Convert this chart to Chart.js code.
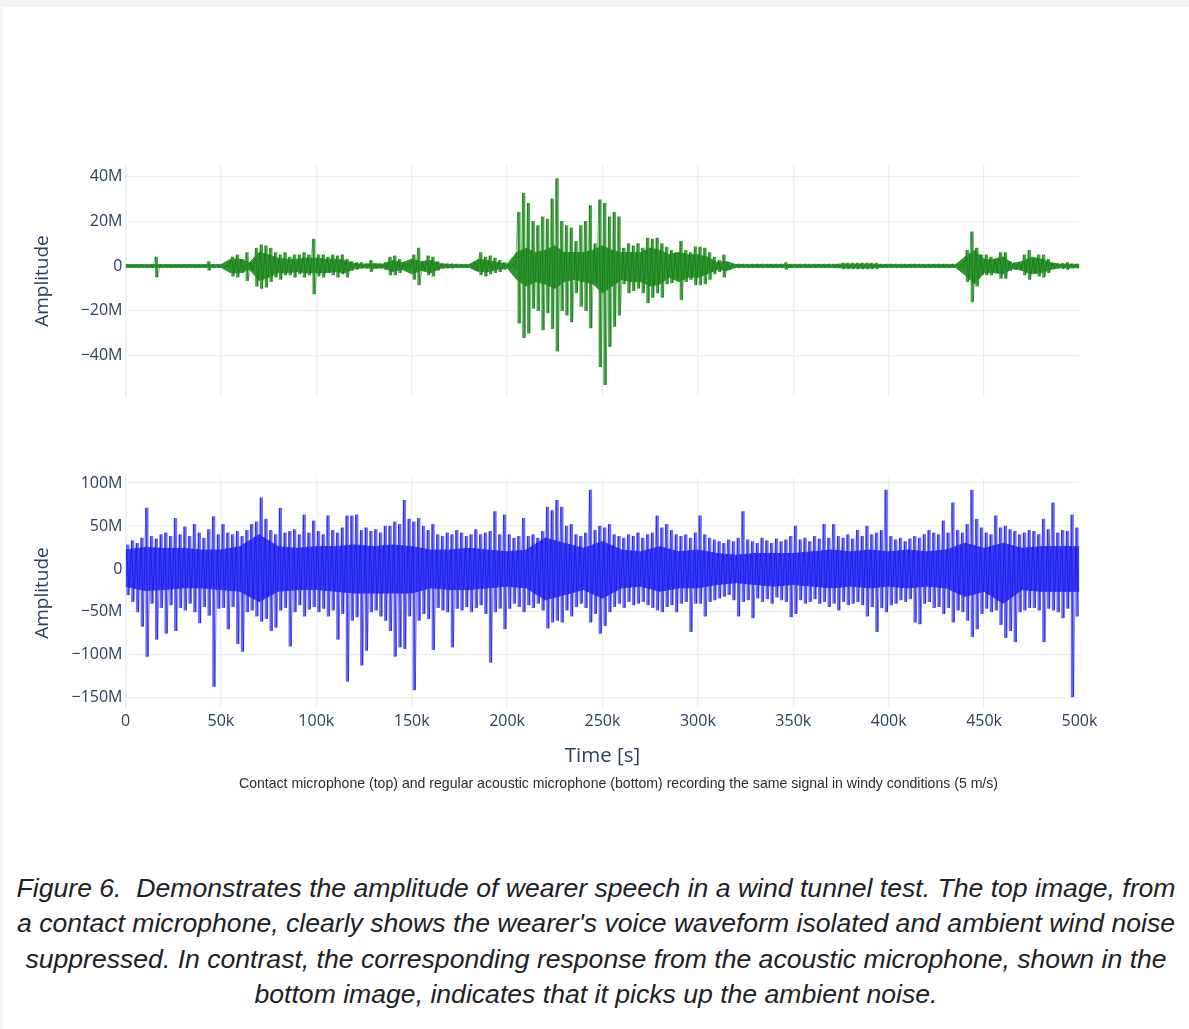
<!DOCTYPE html>
<html>
<head>
<meta charset="utf-8">
<script src="https://cdn.jsdelivr.net/npm/chart.js@4"></script>
<style>
  body { margin: 0; width: 1189px; height: 1029px; overflow: hidden; position: relative; background: #f5f4f0; font-family: "Open Sans", sans-serif; }
  #card { position: absolute; left: 3px; top: 7px; right: 0; bottom: 0; background: #fff; }
  canvas { position: absolute; left: 0; }
  #top { top: 150px; }
  #bottom { top: 465px; }
  #xtitle { position: absolute; left: 0; width: 1205px; top: 741px; line-height: 26px; text-align: center; font-size: 20.5px; color: #2a3f5f; }
  #note { position: absolute; left: 0; width: 1237px; top: 775px; line-height: 16px; text-align: center; font: 14.1px "Liberation Sans", Arial, sans-serif; color: #2b2b2b; white-space: nowrap; }
  #caption { position: absolute; left: 3px; right: 0; top: 871px; text-align: center; font: italic 26.6px/35.3px "Liberation Sans", Arial, sans-serif; color: #1d2125; white-space: nowrap; }
</style>
</head>
<body>
<div id="card"></div>
<canvas id="top" width="1100" height="260"></canvas>
<canvas id="bottom" width="1100" height="300"></canvas>
<div id="xtitle">Time [s]</div>
<div id="note">Contact microphone (top) and regular acoustic microphone (bottom) recording the same signal in windy conditions (5 m/s)</div>
<div id="caption">Figure 6.&nbsp; Demonstrates the amplitude of wearer speech in a wind tunnel test. The top image, from<br>a contact microphone, clearly shows the wearer's voice waveform isolated and ambient wind noise<br>suppressed. In contrast, the corresponding response from the acoustic microphone, shown in the<br>bottom image, indicates that it picks up the ambient noise.</div>
<script>
// peaks: high and low per 2.5k-sample bin, amplitude in millions
const binSize = 2500;

const topHi = [
  0.6, 0.6, 0.6, 0.6, 0.6, 0.6, 4, 0.6, 0.6, 0.6,
  0.6, 0.6, 0.6, 0.6, 0.6, 0.6, 0.6, 2, 0.7, 0.7,
  0.7, 0.7, 4, 5, 3, 6, 1.5, 8, 9.5, 9,
  8, 6, 5, 6, 4, 5, 5, 6, 5, 12,
  5, 5, 4, 5, 4.5, 5, 3, 2, 1.5, 1.5,
  1, 2.5, 1, 1, 1.5, 4, 4.5, 3, 1.5, 1,
  5, 8, 2, 4.5, 4, 2, 1, 1, 1, 0.8,
  0.7, 0.7, 0.8, 2, 6, 4, 4.5, 3.5, 2.5, 1.5,
  1, 1, 24, 32.6, 28, 20, 18, 22, 21, 30,
  39, 20, 18, 17, 11, 18, 20, 27, 10, 29.5,
  28, 22, 24, 22, 8, 10, 9, 10, 8, 12.5,
  12, 12.5, 10, 8.5, 7, 6, 11, 7, 6, 8.6,
  8.5, 8, 6, 4, 2.5, 5, 1.5, 0.8, 0.8, 0.8,
  0.8, 0.8, 0.8, 0.8, 0.8, 0.8, 0.8, 0.8, 1.5, 0.8,
  0.8, 0.8, 0.8, 0.8, 0.8, 0.8, 0.8, 0.8, 0.8, 0.8,
  1.3, 1.3, 1.3, 1.3, 1.3, 1.3, 1.3, 1.3, 0.8, 0.8,
  0.8, 0.8, 0.8, 0.8, 0.8, 0.8, 0.8, 0.8, 0.8, 0.8,
  0.8, 0.8, 0.8, 0.8, 0.8, 0.8, 7, 15.3, 8, 5,
  5, 4, 3, 6, 6, 2, 1.5, 1.5, 5, 7,
  3, 5, 5, 3, 1.2, 1, 1.2, 1.5, 1, 1
];
const topLo = [
  -0.6, -0.6, -0.6, -0.6, -0.6, -0.6, -5, -0.6, -0.6, -0.6,
  -0.6, -0.6, -0.6, -0.6, -0.6, -0.6, -0.6, -2, -0.7, -0.7,
  -0.7, -0.7, -4.5, -5, -3, -6.5, -2, -9, -10, -9.5,
  -7, -5, -6, -4, -4, -5, -3.5, -5, -4, -12.5,
  -4.5, -5, -3, -4, -5, -3.5, -5, -2, -1.5, -1,
  -1, -2.5, -1, -1, -1.5, -4, -4, -3, -1.5, -1,
  -6, -8.5, -2, -4, -4.5, -2, -1, -1, -1, -0.8,
  -0.7, -0.7, -0.8, -2, -4, -4.5, -3.5, -3, -2.5, -1.5,
  -1, -1, -25.5, -32, -30, -19, -20, -28.5, -21, -28,
  -38, -20, -22, -25, -12, -18, -20, -27.7, -8, -45,
  -53, -36, -27, -22, -8, -12, -11, -10, -12, -16.5,
  -14, -12, -14, -8, -7.6, -6, -15, -7, -6, -8.5,
  -8.5, -8, -6, -3.5, -2.5, -5, -1.5, -0.8, -0.8, -0.8,
  -0.8, -0.8, -0.8, -0.8, -0.8, -0.8, -0.8, -0.8, -1.5, -0.8,
  -0.8, -0.8, -0.8, -0.8, -0.8, -0.8, -0.8, -0.8, -0.8, -0.8,
  -1.3, -1.3, -1.3, -1.3, -1.3, -1.3, -1.3, -1.3, -0.8, -0.8,
  -0.8, -0.8, -0.8, -0.8, -0.8, -0.8, -0.8, -0.8, -0.8, -0.8,
  -0.8, -0.8, -0.8, -0.8, -0.8, -0.8, -7, -16, -9, -4,
  -4, -4, -3, -5.5, -5.5, -2, -1.5, -1.5, -4, -6,
  -3, -4.5, -5, -3, -1.2, -1, -1.2, -1.5, -1, -1
];

// dense core of the top trace, every 5k samples (0 .. 500k)
const topCoreStep = 5000;
const topCoreHi = [
  0.6, 0.6, 0.6, 0.6, 0.6, 0.6, 0.6, 0.6, 0.6, 0.6,
  0.6, 3, 3, 1.5, 6, 5, 3.5, 3, 3, 3.5,
  3.5, 3, 3, 2.5, 1, 0.8, 1, 0.8, 2.5, 1.5,
  3, 2, 2.5, 1, 0.6, 0.6, 0.6, 3, 2.5, 1.5,
  0.8, 6, 8, 6, 7, 9, 6, 6, 6, 7,
  9, 7, 6, 6, 6, 8, 7, 5, 6, 5,
  5, 4, 1.5, 2, 0.6, 0.6, 0.6, 0.6, 0.6, 0.6,
  0.6, 0.6, 0.6, 0.6, 0.6, 0.8, 0.8, 0.8, 0.8, 0.6,
  0.6, 0.6, 0.6, 0.6, 0.6, 0.6, 0.6, 0.6, 4, 7,
  3, 3, 4, 1, 2, 4, 3, 1.5, 0.7, 0.8, 0.6
];
const topCoreLo = [
  -0.6, -0.6, -0.6, -0.6, -0.6, -0.6, -0.6, -0.6, -0.6, -0.6,
  -0.6, -3, -3, -1.5, -6.5, -5, -3, -3, -2.5, -3,
  -3, -3, -2.5, -3, -1, -0.8, -1, -0.8, -2.5, -1.5,
  -3.5, -2, -3, -1, -0.6, -0.6, -0.6, -2.5, -2.5, -1.5,
  -0.8, -6, -9, -7, -8, -10, -7, -6, -7, -8,
  -12, -9, -6, -7, -7, -9, -8, -5, -7, -5,
  -5, -3.5, -1.5, -2, -0.6, -0.6, -0.6, -0.6, -0.6, -0.6,
  -0.6, -0.6, -0.6, -0.6, -0.6, -0.8, -0.8, -0.8, -0.8, -0.6,
  -0.6, -0.6, -0.6, -0.6, -0.6, -0.6, -0.6, -0.6, -4, -8,
  -3, -3, -3.5, -1, -2, -3.5, -3, -1.5, -0.7, -0.8, -0.6
];

const bottomHi = [
  28, 33, 30, 36, 71, 38, 35, 40, 42, 38,
  59, 40, 49, 38, 52, 42, 36, 46, 61, 40,
  52, 42, 40, 44, 38, 45, 52, 55, 83, 58,
  45, 40, 71, 42, 44, 46, 40, 63, 42, 56,
  44, 40, 62, 45, 42, 48, 62, 62, 63, 45,
  48, 44, 46, 42, 50, 50, 55, 52, 80, 58,
  55, 59, 50, 45, 52, 40, 38, 42, 40, 45,
  42, 38, 40, 46, 40, 42, 44, 67, 40, 63,
  40, 36, 38, 59, 38, 40, 36, 44, 72, 68,
  80, 72, 50, 52, 40, 38, 42, 92, 45, 50,
  48, 52, 40, 38, 36, 40, 38, 42, 36, 40,
  42, 62, 48, 52, 45, 40, 38, 40, 36, 42,
  62, 40, 36, 34, 32, 30, 34, 32, 36, 67,
  34, 32, 30, 36, 33, 30, 35, 32, 34, 38,
  50, 34, 36, 32, 38, 35, 52, 36, 52, 38,
  36, 40, 35, 45, 38, 50, 40, 42, 45, 92,
  38, 34, 36, 32, 35, 38, 36, 40, 45, 42,
  40, 56, 42, 77, 45, 42, 52, 92, 58, 48,
  42, 40, 62, 48, 50, 46, 44, 40, 42, 45,
  44, 40, 58, 46, 77, 42, 45, 44, 63, 48
];
const bottomLo = [
  -30, -38, -50, -67, -102, -40, -82, -45, -75, -42,
  -72, -45, -48, -40, -50, -63, -44, -54, -137, -46,
  -45, -70, -44, -87, -96, -50, -48, -55, -61, -58,
  -72, -68, -48, -45, -90, -50, -42, -55, -47, -44,
  -50, -46, -55, -48, -82, -52, -131, -60, -56, -112,
  -95, -50, -48, -55, -60, -72, -102, -91, -93, -55,
  -141, -60, -52, -58, -94, -45, -48, -50, -91, -46,
  -48, -44, -50, -45, -42, -52, -109, -50, -46, -70,
  -46, -40, -44, -50, -42, -45, -40, -48, -69, -62,
  -60, -62, -48, -55, -44, -40, -45, -62, -52, -75,
  -66, -50, -44, -40, -45, -38, -42, -40, -38, -42,
  -45, -48, -50, -44, -42, -50, -40, -38, -73, -40,
  -40, -55, -38, -36, -34, -32, -30, -36, -55, -38,
  -36, -57, -34, -38, -35, -40, -33, -36, -38, -56,
  -52, -36, -40, -38, -35, -40, -38, -44, -40, -48,
  -38, -42, -40, -38, -42, -55, -44, -73, -45, -50,
  -42, -40, -36, -38, -35, -62, -64, -40, -38, -45,
  -44, -52, -45, -62, -48, -50, -60, -79, -70, -52,
  -46, -50, -48, -65, -80, -72, -85, -50, -48, -45,
  -45, -48, -85, -46, -48, -50, -57, -46, -149, -55
];

// dense core of the bottom trace, every 10k samples (0 .. 500k)
const bottomCoreStep = 10000;
const bottomCoreHi = [
  22, 25, 24, 24, 22, 22, 26, 40, 26, 24,
  26, 26, 28, 26, 28, 26, 22, 22, 24, 22,
  20, 22, 36, 30, 24, 32, 22, 20, 26, 20,
  22, 18, 16, 18, 18, 18, 20, 22, 20, 22,
  20, 22, 20, 22, 30, 24, 30, 24, 26, 26, 26
];
const bottomCoreLo = [
  -20, -25, -24, -22, -22, -24, -26, -38, -26, -24,
  -24, -26, -28, -28, -28, -28, -22, -24, -24, -22,
  -20, -22, -36, -30, -24, -34, -22, -20, -26, -22,
  -22, -18, -16, -18, -20, -18, -20, -22, -20, -22,
  -20, -22, -20, -22, -32, -26, -40, -24, -26, -26, -26
];

const xTicks = [0, 50000, 100000, 150000, 200000, 250000, 300000, 350000, 400000, 450000, 500000];
const topTicks = [-40, -20, 0, 20, 40];
const bottomTicks = [-150, -100, -50, 0, 50, 100];

const gridColor = "#ebf0f8";
const textColor = "#2a3f5f";
const tickFont = { family: "Open Sans", size: 16 };

// one vertical stroke from low to high per bin
function strokes(hi, lo) {
  return hi.map((h, i) => ({ x: i * binSize + binSize / 2, y: [lo[i], h] }));
}

// zigzag between the high and low of every bin
function wave(hi, lo) {
  const pts = [];
  hi.forEach((h, i) => {
    pts.push({ x: i * binSize + binSize / 4, y: h });
    pts.push({ x: i * binSize + (binSize * 3) / 4, y: lo[i] });
  });
  return pts;
}

function series(values, step) {
  return values.map((v, i) => ({ x: i * step, y: v }));
}

function fmtM(v) {
  if (v === 0) return "0";
  return (v < 0 ? "\u2212" + -v : v) + "M";
}

function fmtK(v) {
  return v === 0 ? "0" : v / 1000 + "k";
}

function makeChart(id, trace, padding) {
  return new Chart(document.getElementById(id), {
    type: "bar",
    data: {
      datasets: [
        {
          type: "line",
          data: wave(trace.hi, trace.lo),
          borderColor: trace.line,
          borderWidth: 1,
          pointRadius: 0,
          fill: false,
          order: 0,
        },
        {
          type: "line",
          data: series(trace.coreHi, trace.coreStep),
          borderColor: trace.core,
          backgroundColor: trace.core,
          borderWidth: 1,
          pointRadius: 0,
          fill: "+1",
          order: 1,
        },
        {
          type: "line",
          data: series(trace.coreLo, trace.coreStep),
          borderColor: trace.core,
          borderWidth: 1,
          pointRadius: 0,
          fill: false,
          order: 1,
        },
        {
          data: strokes(trace.hi, trace.lo),
          backgroundColor: trace.color,
          borderWidth: 0,
          barThickness: 2.4,
          grouped: false,
          order: 2,
        },
      ],
    },
    options: {
      responsive: false,
      animation: false,
      events: [],
      layout: { padding: padding },
      plugins: { legend: { display: false }, tooltip: { enabled: false } },
      scales: {
        x: {
          type: "linear",
          min: 0,
          max: 500000,
          offset: false,
          afterBuildTicks: (s) => {
            s.ticks = xTicks.map((v) => ({ value: v }));
          },
          afterFit: (s) => {
            s.height = trace.showX ? 30 : 0;
            s.paddingLeft = 0;
            s.paddingRight = 0;
          },
          grid: {
            offset: false,
            color: (c) => (c.tick && c.tick.value === 500000 ? "rgba(0,0,0,0)" : gridColor),
            lineWidth: (c) => (c.tick && c.tick.value === 0 ? 2 : 1.3),
            drawTicks: false,
          },
          border: { display: false },
          ticks: { display: trace.showX, padding: 4, font: tickFont, color: textColor, callback: fmtK, maxRotation: 0, autoSkip: false },
        },
        y: {
          min: trace.min,
          max: trace.max,
          afterBuildTicks: (s) => {
            s.ticks = trace.ticks.map((v) => ({ value: v }));
          },
          afterFit: (s) => {
            s.width = 125.5;
            s.paddingTop = 0;
            s.paddingBottom = 0;
          },
          grid: {
            color: gridColor,
            lineWidth: (c) => (c.tick && c.tick.value === 0 ? 2 : 1.3),
            drawTicks: false,
          },
          border: { display: false },
          title: {
            display: true,
            text: "Amplitude",
            font: { family: "Open Sans", size: 19 },
            color: textColor,
            padding: { top: 31, bottom: 0 },
          },
          ticks: { padding: 3, font: tickFont, color: textColor, callback: fmtM },
        },
      },
    },
  });
}

makeChart("top", {
  hi: topHi, lo: topLo, coreHi: topCoreHi, coreLo: topCoreLo, coreStep: topCoreStep,
  color: "#47a647", line: "rgba(0,100,0,0.45)", core: "#2f962f",
  min: -58.5, max: 45.1, ticks: topTicks, showX: false,
}, { top: 15, right: 20.5, bottom: 13, left: 0 });

makeChart("bottom", {
  hi: bottomHi, lo: bottomLo, coreHi: bottomCoreHi, coreLo: bottomCoreLo, coreStep: bottomCoreStep,
  color: "#6b6bff", line: "rgba(0,0,190,0.45)", core: "#3a3aff",
  min: -162, max: 106, ticks: bottomTicks, showX: true,
}, { top: 13, right: 20.5, bottom: 27, left: 0 });
</script>
</body>
</html>
